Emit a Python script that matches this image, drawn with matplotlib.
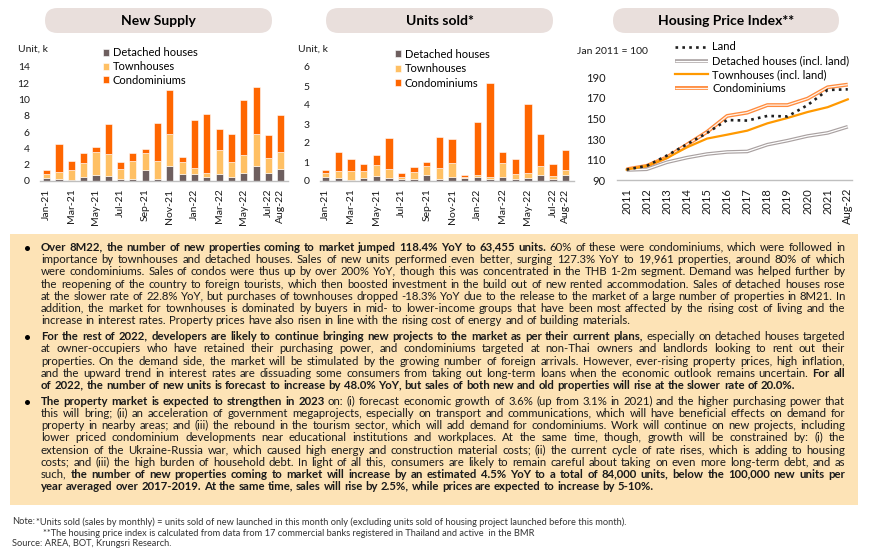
import matplotlib
matplotlib.use("Agg")
import math
import numpy as np
import matplotlib.pyplot as plt
from matplotlib.patches import FancyBboxPatch
from matplotlib.backends.backend_agg import get_hinting_flag

plt.rcParams['font.family'] = ['Lato', 'DejaVu Sans']

W, H = 870, 558

# ---- data (units, k) ----
months = ['Jan-21', 'Feb-21', 'Mar-21', 'Apr-21', 'May-21', 'Jun-21', 'Jul-21', 'Aug-21',
          'Sep-21', 'Oct-21', 'Nov-21', 'Dec-21', 'Jan-22', 'Feb-22', 'Mar-22', 'Apr-22',
          'May-22', 'Jun-22', 'Jul-22', 'Aug-22']
month_ticks = ['Jan-21', 'Mar-21', 'May-21', 'Jul-21', 'Sep-21', 'Nov-21', 'Jan-22',
               'Mar-22', 'May-22', 'Jul-22', 'Aug-22']

supply_detached = [0.35, 0.25, 0.12, 0.45, 0.73, 0.65, 0.25, 0.25, 1.35, 0.30,
                   1.88, 0.86, 0.90, 0.45, 0.82, 0.53, 0.94, 1.84, 0.98, 1.43]
supply_town = [0.55, 0.85, 1.28, 1.80, 2.82, 2.70, 1.22, 2.16, 2.04, 2.19,
               3.88, 1.47, 0.70, 0.53, 2.94, 1.80, 2.24, 3.92, 1.88, 2.12]
supply_condo = [0.45, 3.43, 1.05, 1.15, 0.61, 3.59, 0.86, 1.02, 0.53, 4.65,
                5.38, 0.61, 5.91, 7.22, 2.64, 3.43, 6.74, 5.83, 2.77, 4.61]

sold_detached = [0.23, 0.14, 0.05, 0.14, 0.26, 0.16, 0.09, 0.09, 0.33, 0.09,
                 0.23, 0.16, 0.19, 0.10, 0.19, 0.09, 0.16, 0.33, 0.09, 0.30]
sold_town = [0.21, 0.37, 0.46, 0.37, 0.60, 0.47, 0.14, 0.38, 0.46, 0.59,
             0.73, 0.07, 0.11, 0.11, 0.75, 0.28, 0.26, 0.46, 0.17, 0.28]
sold_condo = [0.14, 1.01, 0.66, 0.36, 0.50, 1.63, 0.19, 0.26, 0.19, 1.63,
              1.23, 0.08, 2.80, 4.95, 0.60, 0.80, 3.64, 1.68, 0.63, 1.03]

# housing price index, Jan 2011 = 100
hpi_years = ['2011', '2012', '2013', '2014', '2015', '2016', '2017', '2018',
             '2019', '2020', '2021', 'Aug-22']
hpi_land = [100.4, 104, 114, 125, 136, 148.5, 148, 152.5, 152, 163, 177.7, 178.3]
hpi_detached = [100, 100.7, 107.5, 112, 115.5, 117.5, 118, 124.6, 128.5, 133, 136, 142]
hpi_town = [100.4, 104, 111.7, 122, 130.5, 134.3, 138.2, 145.3, 150.5, 156.3, 161, 168.6]
hpi_condo = [100.7, 104, 112.3, 124.6, 137, 152.5, 155.7, 163, 163, 169.3, 180.3, 182.9]

C_DET = '#6E5F5F'
C_TOWN = '#FFC064'
C_CONDO = '#FF6600'
TXT = '#1A1A1A'

fig = plt.figure(figsize=(W / 100, H / 100), dpi=100)
bg = fig.add_axes([0, 0, 1, 1])
bg.set_xlim(0, W)
bg.set_ylim(H, 0)
bg.axis('off')


def px_axes(left, top, right, bottom):
    return fig.add_axes([left / W, 1 - bottom / H, (right - left) / W, (bottom - top) / H])


def pill(x0, x1, y0, y1, label):
    bg.add_patch(FancyBboxPatch((x0, y0), x1 - x0, y1 - y0,
                                boxstyle='round,pad=0,rounding_size=12.5',
                                fc='#E9DFDC', ec='none'))
    bg.text((x0 + x1) / 2, (y0 + y1) / 2 + 0.5, label, ha='center', va='center',
            fontsize=10, fontweight='bold', color='black')


def style_axes(ax, pad_y, fs):
    for s in ['top', 'right', 'left']:
        ax.spines[s].set_visible(False)
    ax.spines['bottom'].set_color('#BFBFBF')
    ax.spines['bottom'].set_linewidth(1.0)
    ax.tick_params(axis='both', length=0, labelsize=fs, colors=TXT)
    ax.tick_params(axis='y', pad=pad_y)
    ax.tick_params(axis='x', pad=5.5)


def stacked(ax, det, town, condo, ymax, step, legend_xy, spacing):
    x = np.arange(len(months))
    b1 = ax.bar(x, det, width=0.58, color=C_DET, edgecolor='white', linewidth=0.4)
    b2 = ax.bar(x, town, width=0.58, bottom=det, color=C_TOWN, edgecolor='white', linewidth=0.4)
    b3 = ax.bar(x, condo, width=0.58, bottom=np.add(det, town), color=C_CONDO,
                edgecolor='white', linewidth=0.4)
    ax.set_ylim(0, ymax)
    ax.set_yticks(np.arange(0, ymax + 0.01, step))
    ax.set_xticks([months.index(m) for m in month_ticks])
    ax.set_xticklabels(month_ticks, rotation=90)
    style_axes(ax, 7.5, 7.5)
    ax.legend([b1, b2, b3], ['Detached houses', 'Townhouses', 'Condominiums'],
              loc='upper left', bbox_to_anchor=legend_xy, bbox_transform=bg.transData,
              frameon=False, fontsize=8, handlelength=0.55, handleheight=0.6,
              handletextpad=0.35, labelspacing=spacing, borderpad=0, borderaxespad=0)


# ---- panel 1: new supply ----
pill(45, 272, 8, 33, 'New Supply')
ax1 = px_axes(40, 67, 288, 181)
stacked(ax1, supply_detached, supply_town, supply_condo, 14, 2, (103, 47.5), 0.24)
ax1.set_xlim(-0.54, 19.59)
bg.text(18, 49, 'Unit, k', fontsize=7.5, va='center', color=TXT)

# ---- panel 2: units sold ----
pill(326, 553, 8, 33, 'Units sold*')
ax2 = px_axes(320, 67, 574, 181)
stacked(ax2, sold_detached, sold_town, sold_condo, 6, 1, (395, 48.5), 0.33)
ax2.set_xlim(-0.45, 19.65)
bg.text(298, 49, 'Unit, k', fontsize=7.5, va='center', color=TXT)

# ---- panel 3: housing price index ----
pill(613, 839, 8, 33, 'Housing Price Index**')
ax3 = px_axes(617, 77.3, 852, 180.3)
xi = np.arange(len(hpi_years))
c_out, = ax3.plot(xi, hpi_condo, color='#FF8B3D', lw=2.8, solid_capstyle='butt')
c_in, = ax3.plot(xi, hpi_condo, color='#FFF3EA', lw=0.9, solid_capstyle='butt')
d_out, = ax3.plot(xi, hpi_detached, color='#A9A1A1', lw=2.6, solid_capstyle='butt')
d_in, = ax3.plot(xi, hpi_detached, color='white', lw=0.9, solid_capstyle='butt')
t_ln, = ax3.plot(xi, hpi_town, color='#FF9900', lw=1.6)
l_ln, = ax3.plot(xi, hpi_land, color='#1F1F1F', lw=1.9, ls=(0, (1, 1.6)))
ax3.set_ylim(90, 190)
ax3.set_yticks(np.arange(90, 191, 20))
ax3.set_xlim(-0.48, 11.21)
ax3.set_xticks(xi)
ax3.set_xticklabels(hpi_years, rotation=90)
style_axes(ax3, 8.5, 8)
ax3.legend([l_ln, (d_out, d_in), t_ln, (c_out, c_in)],
           ['Land', 'Detached houses (incl. land)', 'Townhouses (incl. land)', 'Condominiums'],
           loc='upper left', bbox_to_anchor=(675, 41.5), bbox_transform=bg.transData,
           frameon=False, fontsize=8, handlelength=3.0, handletextpad=0.35,
           labelspacing=0.26, borderpad=0, borderaxespad=0)
bg.text(577, 51, 'Jan 2011 = 100', fontsize=7.5, va='center', color=TXT)

# ---- commentary box ----
bg.add_patch(plt.Rectangle((10, 234), 848, 271, fc='#FDE3B6', ec='none'))

paragraphs = [
    ["**Over 8M22, the number of new properties coming to market jumped 118.4% YoY to 63,455 units.** 60% of these were condominiums, which were followed in",
     "importance by townhouses and detached houses. Sales of new units performed even better, surging 127.3% YoY to 19,961 properties, around 80% of which",
     "were condominiums. Sales of condos were thus up by over 200% YoY, though this was concentrated in the THB 1-2m segment. Demand was helped further by",
     "the reopening of the country to foreign tourists, which then boosted investment in the build out of new rented accommodation. Sales of detached houses rose",
     "at the slower rate of 22.8% YoY, but purchases of townhouses dropped -18.3% YoY due to the release to the market of a large number of properties in 8M21. In",
     "addition, the market for townhouses is dominated by buyers in mid- to lower-income groups that have been most affected by the rising cost of living and the",
     "increase in interest rates. Property prices have also risen in line with the rising cost of energy and of building materials."],
    ["**For the rest of 2022, developers are likely to continue bringing new projects to the market as per their current plans,** especially on detached houses targeted",
     "at owner-occupiers who have retained their purchasing power, and condominiums targeted at non-Thai owners and landlords looking to rent out their",
     "properties. On the demand side, the market will be stimulated by the growing number of foreign arrivals. However, ever-rising property prices, high inflation,",
     "and the upward trend in interest rates are dissuading some consumers from taking out long-term loans when the economic outlook remains uncertain. **For all**",
     "**of 2022, the number of new units is forecast to increase by 48.0% YoY, but sales of both new and old properties will rise at the slower rate of 20.0%.**"],
    ["**The property market is expected to strengthen in 2023** on: (i) forecast economic growth of 3.6% (up from 3.1% in 2021) and the higher purchasing power that",
     "this will bring; (ii) an acceleration of government megaprojects, especially on transport and communications, which will have beneficial effects on demand for",
     "property in nearby areas; and (iii) the rebound in the tourism sector, which will add demand for condominiums. Work will continue on new projects, including",
     "lower priced condominium developments near educational institutions and workplaces. At the same time, though, growth will be constrained by: (i) the",
     "extension of the Ukraine-Russia war, which caused high energy and construction material costs; (ii) the current cycle of rate rises, which is adding to housing",
     "costs; and (iii) the high burden of household debt. In light of all this, consumers are likely to remain careful about taking on even more long-term debt, and as",
     "such, **the number of new properties coming to market will increase by an estimated 4.5% YoY to a total of 84,000 units, below the 100,000 new units per**",
     "**year averaged over 2017-2019. At the same time, sales will rise by 2.5%, while prices are expected to increase by 5-10%.**"],
]
para_top = [248, 337.1, 401.9]
line_gap = 12.15
text_left, text_right = 41, 845

renderer = fig.canvas.get_renderer()


def parse(line):
    # '**' toggles bold; returns (word, is_bold) pairs
    words = []
    for k, chunk in enumerate(line.split('**')):
        for w in chunk.split():
            words.append((w, k % 2 == 1))
    return words


def measure(s, size, bold):
    t = bg.text(0, 0, s, fontsize=size, fontweight='bold' if bold else 'normal')
    w = t.get_window_extent(renderer).width
    t.remove()
    return w


def snap_baseline(t, row):
    # Agg places each word's bitmap from its own ink box, so words with
    # different descenders can land a pixel apart; shift each one so its
    # baseline falls on the same pixel row
    try:
        font = renderer._prepare_font(t.get_fontproperties())
        font.set_text(t.get_text(), 0, flags=get_hinting_flag())
        d64 = font.get_descent()
        w64, h64 = font.get_width_height()
        k = row + h64 // 64 - math.floor((h64 - d64) / 64)
        t.set_y(k - d64 / 64)
    except Exception:
        t.set_y(row)


# pick a body size so the fullest justified line fits the box width
base = 10.0
sp0 = measure('x x', base, False) - measure('xx', base, False)
widest = 0
for para in paragraphs:
    for line in para[:-1]:
        ws = parse(line)
        nat = sum(measure(w, base, b) for w, b in ws) + sp0 * (len(ws) - 1)
        widest = max(widest, nat)
body_size = base * (text_right - text_left - 2) / widest
space = sp0 * body_size / base

# justified text, one text object per word
for p, para in enumerate(paragraphs):
    bg.plot(27, para_top[p], 'o', ms=3.6, color='black', mec='none')
    for i, line in enumerate(para):
        row = math.floor(para_top[p] + i * line_gap + 3.6)
        objs = []
        for w, b in parse(line):
            t = bg.text(0, row, w, fontsize=body_size, fontweight='bold' if b else 'normal',
                        va='baseline', ha='left', color=TXT)
            objs.append(t)
        widths = [t.get_window_extent(renderer).width for t in objs]
        if i < len(para) - 1 and len(objs) > 1:
            gap = (text_right - text_left - sum(widths)) / (len(objs) - 1)
        else:
            gap = space
        x = text_left
        for t, w in zip(objs, widths):
            t.set_x(x)
            snap_baseline(t, row)
            x += w + gap

# ---- notes ----
note1 = '*Units sold (sales by monthly) = units sold of new launched in this month only (excluding units sold of housing project launched before this month).'
note2 = '**The housing price index is calculated from data from 17 commercial banks registered in Thailand and active  in the BMR'
note_size = 10.0 * (632 - 36) / measure(note1, 10.0, False)
NOTE = '#333333'
bg.text(12, 522, 'Note:', fontsize=note_size, va='center', color=NOTE)
bg.text(36, 522, note1, fontsize=note_size, va='center', color=NOTE)
bg.text(43, 533, note2, fontsize=note_size, va='center', color=NOTE)
bg.text(12, 544, 'Source: AREA, BOT, Krungsri Research.', fontsize=note_size, va='center', color=NOTE)

fig.savefig('out.png', dpi=100)
